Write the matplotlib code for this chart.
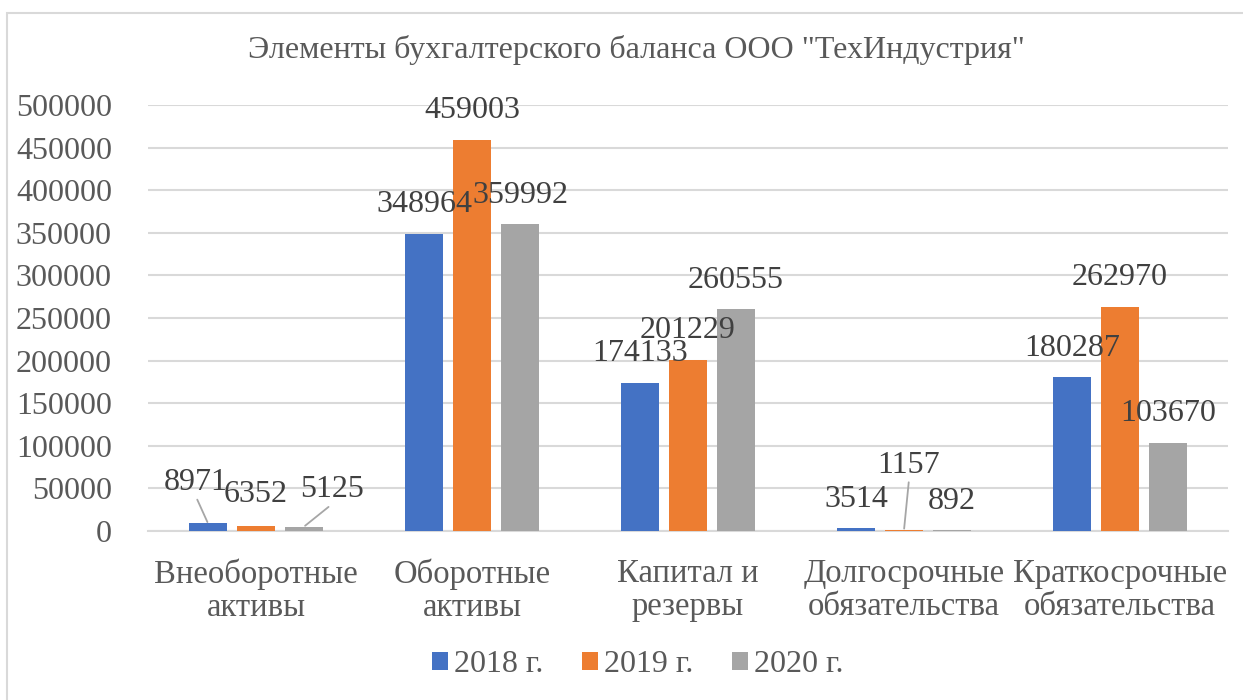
import matplotlib.pyplot as plt
import numpy as np
from matplotlib.patches import Rectangle

plt.rcParams['font.family'] = ['Liberation Serif', 'DejaVu Serif']

title = 'Элементы бухгалтерского баланса ООО "ТехИндустрия"'
categories = ['Внеоборотные\nактивы', 'Оборотные\nактивы', 'Капитал и\nрезервы',
              'Долгосрочные\nобязательства', 'Краткосрочные\nобязательства']
years = ['2018 г.', '2019 г.', '2020 г.']
v2018 = [8971, 348964, 174133, 3514, 180287]
v2019 = [6352, 459003, 201229, 1157, 262970]
v2020 = [5125, 359992, 260555, 892, 103670]
colors = ['#4472c4', '#ed7d31', '#a5a5a5']
text_color = '#595959'
grid_color = '#d9d9d9'

# label offsets in pixels (dx, dy, leader line) from bar top
label_offsets = {
    (0, 0): (-12, 41, True), (0, 1): (0, 31, False), (0, 2): (28, 37, True),
    (3, 1): (5, 65, True),
}

fig = plt.figure(figsize=(12.43, 7), dpi=100)
ax = fig.add_axes([148 / 1243, 1 - 531 / 700, 1080 / 1243, 426 / 700])

# outer chart border
fig.patches.append(Rectangle((7 / 1243, -0.01), 1.2, 1 - 13 / 700 + 0.01,
                             transform=fig.transFigure, fill=False,
                             edgecolor=grid_color, linewidth=1.5))

x = np.arange(len(categories))
width = 38 / 216
step = 48 / 216
series = [v2018, v2019, v2020]
for i, vals in enumerate(series):
    pos = x + (i - 1) * step
    ax.bar(pos, vals, width, color=colors[i], label=years[i], zorder=3)
    for j, v in enumerate(vals):
        dx, dy, leader = label_offsets.get((j, i), (0, 29, False))
        kw = {}
        if leader:
            kw['arrowprops'] = dict(arrowstyle='-', color='#a6a6a6', lw=1.3,
                                    shrinkA=0, shrinkB=1, relpos=(0.5, 0.0))
        ax.annotate(str(v), xy=(pos[j], v), xytext=(dx, dy),
                    textcoords='offset pixels', ha='center', va='center',
                    fontsize=23, color='#404040', zorder=5, **kw)

ax.set_xlim(-0.5, len(categories) - 0.5)
ax.set_ylim(0, 500000)
ax.set_yticks(np.arange(0, 500001, 50000))
ax.set_yticklabels([str(t) for t in range(0, 500001, 50000)])
ax.set_xticks(x)
ax.set_xticklabels(categories, linespacing=1.1)
ax.tick_params(axis='y', length=0, pad=26, labelsize=23, labelcolor=text_color)
ax.tick_params(axis='x', length=0, pad=20, labelsize=23.5, labelcolor=text_color)
ax.yaxis.grid(True, color=grid_color, linewidth=1.5, zorder=0)
ax.set_axisbelow(True)
for s in ['top', 'right', 'left']:
    ax.spines[s].set_visible(False)
ax.spines['bottom'].set_color(grid_color)
ax.spines['bottom'].set_linewidth(1.5)

fig.text(636 / 1243, 1 - 50 / 700, title, ha='center', va='center',
         fontsize=23, color=text_color)

fig.legend(loc='center', bbox_to_anchor=(638 / 1243, 1 - 665 / 700), ncol=3,
           frameon=False, fontsize=23, labelcolor=text_color,
           handlelength=0.5, handleheight=0.5, handletextpad=0.2,
           columnspacing=1.2)

fig.savefig('out.png', dpi=100)
